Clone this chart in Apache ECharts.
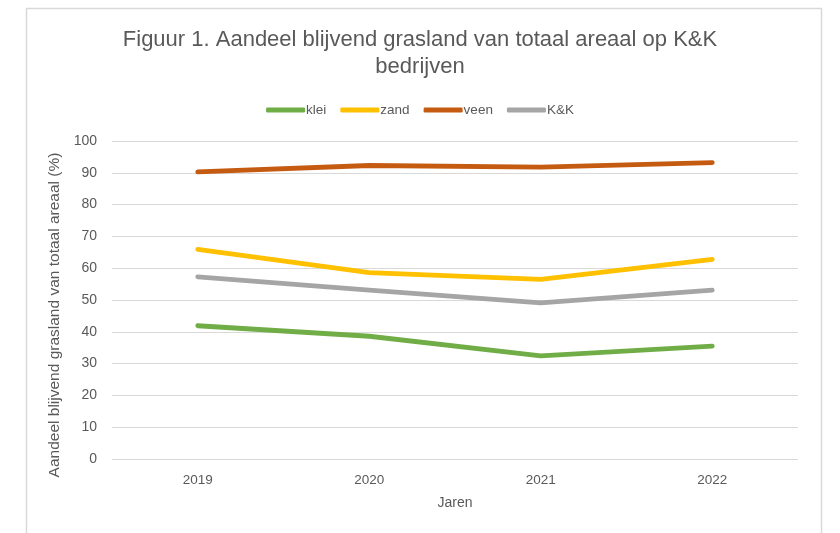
<!DOCTYPE html>
<html><head><meta charset="utf-8">
<script src="https://cdn.jsdelivr.net/npm/echarts@6/dist/echarts.min.js"></script>
<style>html,body{margin:0;padding:0;background:#fff}#c{width:840px;height:533px}</style>
</head><body><div id="c"></div>
<script>
const years = ['2019','2020','2021','2022'];
const klei = [41.9, 38.6, 32.4, 35.5];
const zand = [65.9, 58.6, 56.5, 62.8];
const veen = [90.3, 92.3, 91.8, 93.2];
const kk = [57.3, 53.1, 49.1, 53.1];
const yTicks = [0,10,20,30,40,50,60,70,80,90,100];
const F = 'Liberation Sans, Arial, sans-serif';
const chart = echarts.init(document.getElementById('c'));
const mk = (name, data, color) => ({
  name, type:'line', data, symbol:'none', smooth:false,
  lineStyle:{color, width:4.8, cap:'round', join:'round'}, itemStyle:{color}
});
chart.setOption({
  animation:false,
  graphic:[{type:'rect', left:24, top:6, silent:true, z:-10,
    shape:{width:795, height:540}, style:{fill:'none', stroke:'#d9d9d9', lineWidth:1.5}}],
  title:{text:'Figuur 1. Aandeel blijvend grasland van totaal areaal op K&K\nbedrijven', left:'center', top:21,
    textStyle:{fontFamily:F, fontSize:22, fontWeight:'normal', color:'#595959', lineHeight:27}},
  legend:{top:98, left:'center', icon:'roundRect', itemWidth:39, itemHeight:5, itemGap:14,
    textStyle:{fontFamily:F, fontSize:13.5, color:'#595959', padding:[0,0,0,-4]},
    data:['klei','zand','veen','K&K']},
  grid:{left:112, right:42, top:141, bottom:74, containLabel:false},
  xAxis:{type:'category', data:years, boundaryGap:true, name:'Jaren', nameLocation:'middle', nameGap:37,
    nameTextStyle:{fontFamily:F, fontSize:14, color:'#595959'},
    axisLine:{show:false}, axisTick:{show:false},
    axisLabel:{fontFamily:F, fontSize:13.5, color:'#595959', margin:14}},
  yAxis:{type:'value', min:yTicks[0], max:yTicks[yTicks.length-1], interval:10,
    name:'Aandeel blijvend grasland van totaal areaal (%)', nameLocation:'middle', nameGap:47,
    nameTextStyle:{fontFamily:F, fontSize:15.5, color:'#595959', padding:[0,30,0,0]},
    axisLine:{show:false}, axisTick:{show:false},
    axisLabel:{fontFamily:F, fontSize:14, color:'#595959', margin:15},
    splitLine:{lineStyle:{color:'#d9d9d9', width:1}}},
  series:[mk('klei',klei,'#70AD47'), mk('zand',zand,'#FFC000'), mk('veen',veen,'#C55A11'), mk('K&K',kk,'#A5A5A5')]
});
</script></body></html>
